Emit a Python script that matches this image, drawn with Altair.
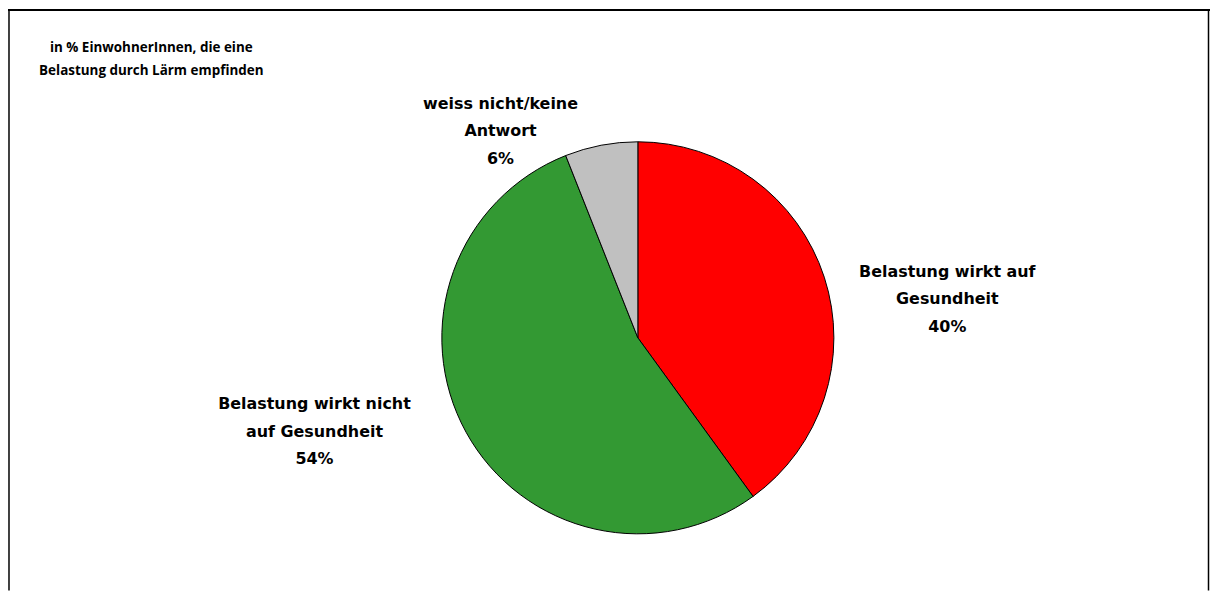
import altair as alt
import pandas as pd

# Data
categories = ["Belastung wirkt auf Gesundheit", "Belastung wirkt nicht auf Gesundheit", "weiss nicht/keine Antwort"]
values = [40, 54, 6]
colors = ["#FF0000", "#339933", "#C0C0C0"]
label_texts = [
    ["Belastung wirkt auf", "Gesundheit", "40%"],
    ["Belastung wirkt nicht", "auf Gesundheit", "54%"],
    ["weiss nicht/keine", "Antwort", "6%"],
]
title_lines = ["in % EinwohnerInnen, die eine", "Belastung durch Lärm empfinden"]

df = pd.DataFrame({"cat": categories, "val": values, "order": [0, 1, 2]})

W, H = 1208, 584
CX, CY, R = 633, 330, 197

pie = alt.Chart(df).mark_arc(outerRadius=R, stroke="black", strokeWidth=1).encode(
    theta=alt.Theta("val:Q", stack=True),
    order=alt.Order("order:Q"),
    color=alt.Color("cat:N", scale=alt.Scale(domain=categories, range=colors), legend=None),
    x=alt.value(CX),
    y=alt.value(CY),
)

label_pos = [(944, 264), (308, 397), (495, 95)]
layers = [pie]
for lines, (lx, ly) in zip(label_texts, label_pos):
    layers.append(
        alt.Chart(pd.DataFrame({"t": [lines]})).mark_text(
            font="DejaVu Sans", fontWeight="bold", fontSize=16, lineHeight=27.5,
            align="center", baseline="middle", color="black",
        ).encode(text="t", x=alt.value(lx), y=alt.value(ly))
    )

layers.append(
    alt.Chart(pd.DataFrame({"t": [title_lines]})).mark_text(
        font="Open Sans", fontWeight="bold", fontSize=13.5, lineHeight=22.5,
        align="center", baseline="middle", color="black",
    ).encode(text="t", x=alt.value(144), y=alt.value(39))
)

frame_df = pd.DataFrame({"d": [0]})
left = alt.Chart(frame_df).mark_rule(color="black", strokeWidth=1.5).encode(
    x=alt.value(1), y=alt.value(0), y2=alt.value(H))
right = alt.Chart(frame_df).mark_rule(color="black", strokeWidth=1.5).encode(
    x=alt.value(W - 1.5), y=alt.value(0), y2=alt.value(H))
top = alt.Chart(frame_df).mark_rule(color="black", strokeWidth=2).encode(
    x=alt.value(0), x2=alt.value(W), y=alt.value(0.5))
layers += [left, right, top]

chart = alt.layer(*layers).properties(
    width=W, height=H, padding=0, autosize=alt.AutoSizeParams(type="none")
).configure_view(stroke=None)

chart.save("out.html", embed_options={"renderer": "svg", "actions": False})
